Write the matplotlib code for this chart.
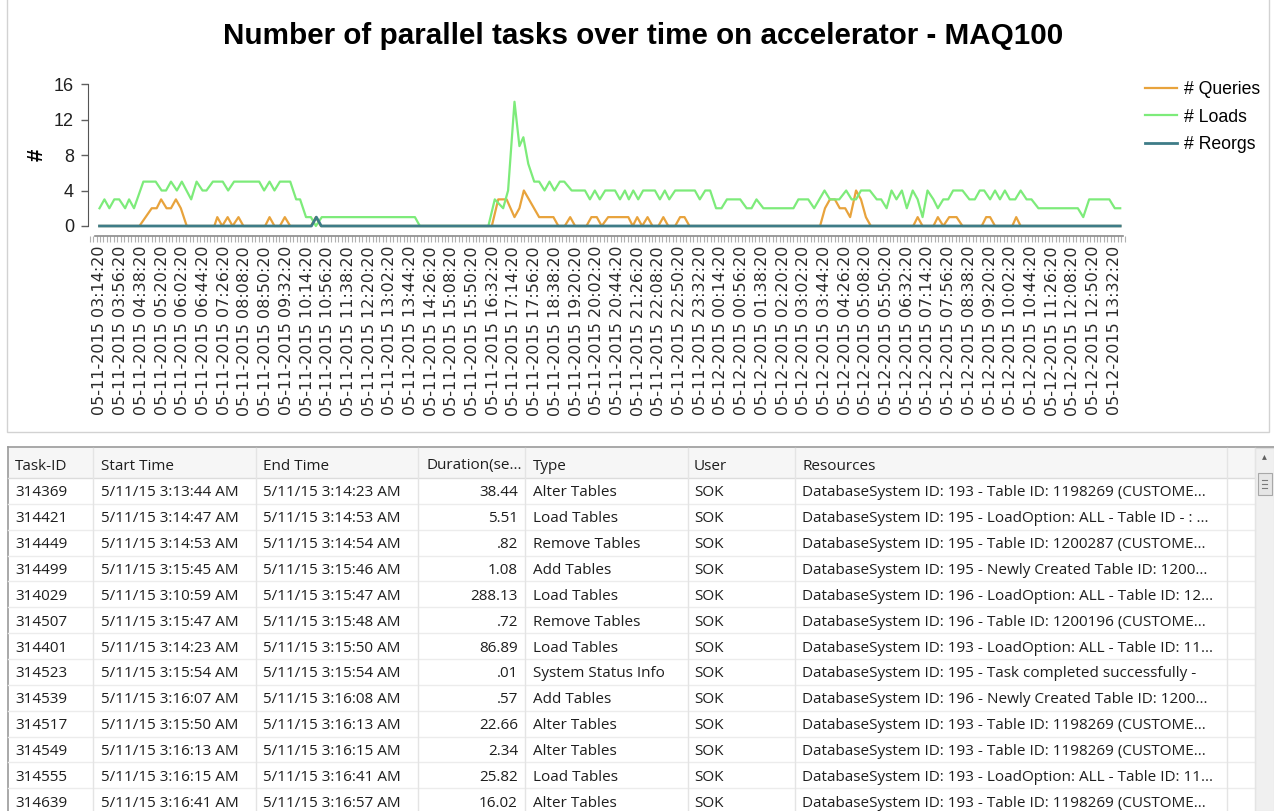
import matplotlib
matplotlib.use("Agg")
import matplotlib.pyplot as plt
from matplotlib.patches import Rectangle
from matplotlib.ticker import FixedLocator, FixedFormatter, MultipleLocator
import pandas as pd

# ---------------- chart data (minutes after 05-11-2015 03:14:20) ----------------
start_time = "2015-05-11 03:14:20"
label_step_min = 42
n_labels = 50

queries_t = [-1, 80, 105, 115, 124, 135, 144, 154, 164, 176, 232, 238, 248, 259, 269,
             281, 291, 335, 344, 354, 365, 375, 386, 428, 438, 448, 795, 808, 825, 841,
             851, 860, 891, 920, 930, 943, 954, 964, 987, 997, 1008, 1018, 1031, 1072,
             1081, 1090, 1100, 1111, 1121, 1133, 1143, 1153, 1167, 1177, 1186, 1196,
             1461, 1471, 1481, 1491, 1501, 1512, 1522, 1534, 1544, 1554, 1564, 1650,
             1659, 1669, 1691, 1700, 1711, 1723, 1738, 1750, 1789, 1798, 1806, 1816,
             1851, 1859, 1868, 2070]
queries_v = [0, 0, 2, 2, 3, 2, 2, 3, 2, 0, 0, 1, 0, 1, 0,
             1, 0, 0, 1, 0, 0, 1, 0, 0, 1, 0, 0, 3, 3, 1,
             2, 4, 1, 1, 0, 0, 1, 0, 0, 1, 1, 0, 1, 1,
             0, 1, 0, 1, 0, 0, 1, 0, 0, 1, 1, 0,
             0, 2, 3, 3, 2, 2, 1, 4, 3, 1, 0, 0,
             1, 0, 0, 1, 0, 1, 1, 0, 0, 1, 1, 0,
             0, 1, 0, 0]

loads_t = [-1, 9, 19, 29, 39, 51, 59, 69, 88, 96, 113, 125, 134, 144, 156, 166, 185,
           196, 208, 216, 229, 249, 260, 272, 323, 333, 344, 354, 365, 386, 398, 406,
           418, 428, 438, 450, 639, 649, 788, 801, 818, 828, 841, 851, 859, 869, 881,
           891, 902, 912, 922, 933, 942, 957, 984, 994, 1004, 1014, 1025, 1045, 1055,
           1065, 1073, 1082, 1092, 1102, 1126, 1136, 1146, 1155, 1167, 1207, 1217,
           1228, 1238, 1250, 1261, 1272, 1299, 1312, 1322, 1332, 1346, 1407, 1417,
           1437, 1449, 1470, 1481, 1500, 1514, 1525, 1534, 1544, 1562, 1576, 1585,
           1596, 1606, 1616, 1627, 1637, 1649, 1659, 1669, 1679, 1691, 1700, 1711,
           1721, 1731, 1750, 1764, 1775, 1785, 1794, 1806, 1816, 1826, 1836, 1846,
           1857, 1868, 1880, 1890, 1904, 1984, 1995, 2007, 2048, 2059, 2070]
loads_v = [2, 3, 2, 3, 3, 2, 3, 2, 5, 5, 5, 4, 4, 5, 4, 5, 3,
           5, 4, 4, 5, 5, 4, 5, 5, 4, 5, 4, 5, 5, 3, 3,
           1, 1, 0, 1, 1, 0, 0, 3, 2, 4, 14, 9, 10, 7, 5,
           5, 4, 5, 4, 5, 5, 4, 4, 3, 4, 3, 4, 4, 3,
           4, 3, 4, 3, 4, 4, 3, 4, 3, 4, 4, 3,
           4, 4, 2, 2, 3, 3, 2, 2, 3, 2, 2, 3,
           3, 2, 4, 3, 3, 4, 3, 3, 4, 4, 3, 3,
           2, 4, 3, 4, 2, 4, 3, 1, 4, 3, 2, 3,
           3, 4, 4, 3, 3, 4, 4, 3, 4, 3, 4, 3,
           3, 4, 3, 3, 2, 2, 1, 3, 3, 2, 2]

reorgs_t = [-1, 429, 439, 449, 2070]
reorgs_v = [0, 0, 1, 0, 0]

series_names = ["# Queries", "# Loads", "# Reorgs"]
series_colors = ["#E8A33C", "#7DEB7A", "#3E7C87"]

# ---------------- table data ----------------
col_headers = ["Task-ID", "Start Time", "End Time", "Duration(se...", "Type", "User", "Resources"]
task_ids = ["314369", "314421", "314449", "314499", "314029", "314507", "314401",
            "314523", "314539", "314517", "314549", "314555", "314639"]
start_times = ["5/11/15 3:13:44 AM", "5/11/15 3:14:47 AM", "5/11/15 3:14:53 AM",
               "5/11/15 3:15:45 AM", "5/11/15 3:10:59 AM", "5/11/15 3:15:47 AM",
               "5/11/15 3:14:23 AM", "5/11/15 3:15:54 AM", "5/11/15 3:16:07 AM",
               "5/11/15 3:15:50 AM", "5/11/15 3:16:13 AM", "5/11/15 3:16:15 AM",
               "5/11/15 3:16:41 AM"]
end_times = ["5/11/15 3:14:23 AM", "5/11/15 3:14:53 AM", "5/11/15 3:14:54 AM",
             "5/11/15 3:15:46 AM", "5/11/15 3:15:47 AM", "5/11/15 3:15:48 AM",
             "5/11/15 3:15:50 AM", "5/11/15 3:15:54 AM", "5/11/15 3:16:08 AM",
             "5/11/15 3:16:13 AM", "5/11/15 3:16:15 AM", "5/11/15 3:16:41 AM",
             "5/11/15 3:16:57 AM"]
durations = [38.44, 5.51, 0.82, 1.08, 288.13, 0.72, 86.89, 0.01, 0.57, 22.66, 2.34, 25.82, 16.02]
task_types = ["Alter Tables", "Load Tables", "Remove Tables", "Add Tables", "Load Tables",
              "Remove Tables", "Load Tables", "System Status Info", "Add Tables",
              "Alter Tables", "Alter Tables", "Load Tables", "Alter Tables"]
users = ["SOK"] * 13
resources = [
    "DatabaseSystem ID: 193 - Table ID: 1198269 (CUSTOME...",
    "DatabaseSystem ID: 195 - LoadOption: ALL - Table ID - : ...",
    "DatabaseSystem ID: 195 - Table ID: 1200287 (CUSTOME...",
    "DatabaseSystem ID: 195 - Newly Created Table ID: 1200...",
    "DatabaseSystem ID: 196 - LoadOption: ALL - Table ID: 12...",
    "DatabaseSystem ID: 196 - Table ID: 1200196 (CUSTOME...",
    "DatabaseSystem ID: 193 - LoadOption: ALL - Table ID: 11...",
    "DatabaseSystem ID: 195 - Task completed successfully -",
    "DatabaseSystem ID: 196 - Newly Created Table ID: 1200...",
    "DatabaseSystem ID: 193 - Table ID: 1198269 (CUSTOME...",
    "DatabaseSystem ID: 193 - Table ID: 1198269 (CUSTOME...",
    "DatabaseSystem ID: 193 - LoadOption: ALL - Table ID: 11...",
    "DatabaseSystem ID: 193 - Table ID: 1198269 (CUSTOME...",
]

# ---------------- figure ----------------
W, H = 1274, 811
fig = plt.figure(figsize=(W / 100, H / 100), dpi=100)
fig.patch.set_facecolor("white")

# pixel-space canvas for panel frames and the task table
cv = fig.add_axes([0, 0, 1, 1])
cv.set_xlim(0, W)
cv.set_ylim(H, 0)
cv.axis("off")
cv.set_zorder(0)

cv.add_patch(Rectangle((7, -2), 1262, 434, fill=False, ec="#d2d2d2", lw=1))

# ---------------- chart ----------------
px_per_unit = (226 - 84) / 16.0
ax_left, ax_right = 88, 1125
ax_top = 84 - 0.1 * px_per_unit
ax_bot = 226 + 0.25 * px_per_unit
ax = fig.add_axes([ax_left / W, 1 - ax_bot / H, (ax_right - ax_left) / W, (ax_bot - ax_top) / H])
ax.set_zorder(2)
ax.patch.set_alpha(0)

min_per_px = label_step_min / 20.7
xlo = -(100 - ax_left) * min_per_px
xhi = xlo + (ax_right - ax_left) * min_per_px
ax.set_xlim(xlo, xhi)
ax.set_ylim(-0.25, 16.1)

ax.plot(queries_t, queries_v, color=series_colors[0], lw=1.6, label=series_names[0], zorder=3)
ax.plot(loads_t, loads_v, color=series_colors[1], lw=1.6, label=series_names[1], zorder=3)
ax.plot(reorgs_t, reorgs_v, color=series_colors[2], lw=2.0, label=series_names[2], zorder=4)

tick_times = pd.date_range(start_time, periods=n_labels, freq=f"{label_step_min}min")
tick_labels = [t.strftime("%m-%d-%Y %H:%M:%S") for t in tick_times]
tick_pos = [i * label_step_min for i in range(n_labels)]
ax.xaxis.set_major_locator(FixedLocator(tick_pos))
ax.xaxis.set_major_formatter(FixedFormatter(tick_labels))
ax.xaxis.set_minor_locator(MultipleLocator(7))
ax.tick_params(axis="x", which="both", direction="out", length=4, width=0.8, color="#b0b0b0",
               pad=3, labelrotation=90, labelsize=11.5, labelcolor="#2a2a2a")

ax.set_yticks([0, 4, 8, 12, 16])
ax.tick_params(axis="y", direction="out", length=5, width=1, color="#606060", pad=5,
               labelsize=13, labelcolor="#202020")
for lab in ax.get_xticklabels() + ax.get_yticklabels():
    lab.set_family("Liberation Sans")

for side in ("top", "right"):
    ax.spines[side].set_visible(False)
ax.spines["left"].set_color("#555555")
ax.spines["left"].set_bounds(0, 16)
ax.spines["bottom"].set_position(("outward", 5.8))
ax.spines["bottom"].set_bounds(-10, 2076)
ax.spines["bottom"].set_color("#8a8a8a")
ax.spines["bottom"].set_linewidth(1.2)

fig.text(643 / W, 1 - 36 / H, "Number of parallel tasks over time on accelerator - MAQ100",
         ha="center", va="center", fontsize=21.3, fontweight="bold", family="Liberation Sans")
fig.text(37 / W, 1 - 155 / H, "#", ha="center", va="center", rotation=90,
         fontsize=16, fontweight="bold", family="Liberation Sans")

fig.legend(loc="upper left", bbox_to_anchor=(1145 / W, 1 - 81 / H), frameon=False,
           prop={"family": "Liberation Sans", "size": 12.7}, handlelength=1.8,
           handletextpad=0.4, labelspacing=0.6, borderpad=0, borderaxespad=0)

# ---------------- task table ----------------
tfont = dict(family="Open Sans", fontsize=11, color="#1e1e1e", va="center")
col_lines = [8, 93, 256, 418, 525, 688, 795, 1227, 1255]
text_x = [15, 101, 263, 427, 533, 694, 802]
dur_right = 518
hdr_top, hdr_bot = 448, 478
row_h = 25.85
dy = 2

cv.add_patch(Rectangle((8, hdr_top), 1247, hdr_bot - hdr_top, fc="#f6f6f6", ec="none"))
cv.plot([8, W], [447, 447], color="#9a9a9a", lw=1.2)
cv.plot([8, 8], [447, H], color="#9a9a9a", lw=1.2)
cv.plot([8, 1255], [hdr_bot, hdr_bot], color="#dcdcdc", lw=1)
n_rows = len(task_ids)
for i in range(1, n_rows + 1):
    y = hdr_bot + i * row_h
    cv.plot([8, 1255], [y, y], color="#ececec", lw=1)
for x in col_lines[1:]:
    cv.plot([x, x], [hdr_top, H], color="#e4e4e4", lw=1)

for j, h in enumerate(col_headers):
    cv.text(text_x[j], 464 + dy, h, ha="left", **tfont)

for i in range(n_rows):
    y = hdr_bot + (i + 0.5) * row_h + dy
    dur = f"{durations[i]:.2f}"
    if dur.startswith("0."):
        dur = dur[1:]
    cells = [task_ids[i], start_times[i], end_times[i], None, task_types[i], users[i], resources[i]]
    for j, c in enumerate(cells):
        if j == 3:
            cv.text(dur_right, y, dur, ha="right", **tfont)
        else:
            cv.text(text_x[j], y, c, ha="left", **tfont)

# vertical scrollbar
cv.add_patch(Rectangle((1255, 448), 19, H - 448, fc="#f0f0f0", ec="#dcdcdc", lw=0.8))
cv.text(1264.5, 456, "\u25b4", ha="center", va="center", fontsize=7, color="#606060",
        family="DejaVu Sans")
cv.add_patch(Rectangle((1257.5, 473), 14, 22, fc="#e6e6e6", ec="#a8a8a8", lw=0.8))
for gy in (480, 484, 488):
    cv.plot([1262, 1267], [gy, gy], color="#7a7a7a", lw=0.8)

fig.savefig("out.png", dpi=100)
